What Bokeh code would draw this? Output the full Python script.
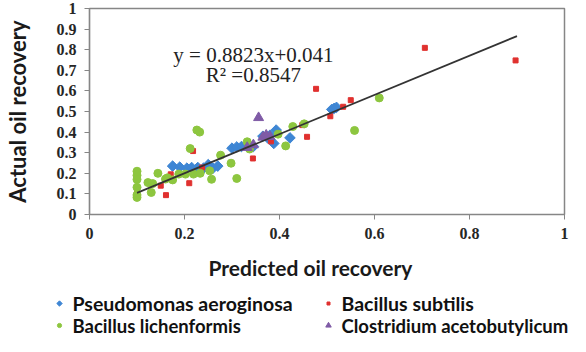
import numpy as np
from bokeh.plotting import figure
from bokeh.layouts import column
from bokeh.models import Range1d, FixedTicker, Label, Title
from bokeh.core.properties import value
from bokeh.embed import file_html
from bokeh.resources import INLINE

# ---- data ----
series_names = ["Pseudomonas aeroginosa", "Bacillus subtilis",
                "Bacillus lichenformis", "Clostridium acetobutylicum"]

blue_x = [0.175, 0.19, 0.205, 0.215, 0.228, 0.24, 0.25, 0.26, 0.27, 0.30, 0.31, 0.32,
          0.335, 0.345, 0.365, 0.375, 0.38, 0.393, 0.388, 0.422, 0.51, 0.515, 0.52]
blue_y = [0.235, 0.23, 0.225, 0.228, 0.228, 0.225, 0.242, 0.225, 0.235, 0.322, 0.328, 0.33,
          0.335, 0.33, 0.38, 0.372, 0.385, 0.41, 0.345, 0.372, 0.51, 0.515, 0.52]

red_x = [0.1, 0.15, 0.161, 0.171, 0.21, 0.218, 0.237, 0.344, 0.382, 0.448, 0.458,
         0.477, 0.507, 0.534, 0.55, 0.706, 0.897]
red_y = [0.107, 0.14, 0.094, 0.195, 0.152, 0.308, 0.228, 0.272, 0.355, 0.434, 0.377,
         0.61, 0.477, 0.523, 0.555, 0.809, 0.748]

green_x = [0.1, 0.1, 0.1, 0.1, 0.1, 0.1, 0.123, 0.13, 0.133, 0.144, 0.16, 0.164, 0.175,
           0.188, 0.202, 0.212, 0.219, 0.226, 0.232, 0.233, 0.253, 0.257, 0.276, 0.298,
           0.31, 0.332, 0.337, 0.397, 0.413, 0.428, 0.452, 0.558, 0.61]
green_y = [0.083, 0.095, 0.132, 0.17, 0.19, 0.21, 0.155, 0.107, 0.15, 0.2, 0.172, 0.178, 0.168,
           0.196, 0.196, 0.32, 0.196, 0.41, 0.4, 0.2, 0.212, 0.171, 0.288, 0.249,
           0.175, 0.353, 0.318, 0.39, 0.333, 0.427, 0.44, 0.408, 0.566]

purple_x = [0.332, 0.345, 0.356, 0.365, 0.372, 0.38]
purple_y = [0.325, 0.338, 0.47, 0.375, 0.385, 0.378]

trend_x = [0.1, 0.9]
trend_y = [0.105, 0.866]

equation_text = "y = 0.8823x+0.041"
r2_text = "R\u00b2 =0.8547"

x_ticks = [0, 0.2, 0.4, 0.6, 0.8, 1]
x_tick_labels = ["0", "0.2", "0.4", "0.6", "0.8", "1"]
y_ticks = [0, 0.1, 0.2, 0.3, 0.4, 0.5, 0.6, 0.7, 0.8, 0.9, 1]
y_tick_labels = ["0", "0.1", "0.2", "0.3", "0.4", "0.5", "0.6", "0.7", "0.8", "0.9", "1"]

x_title = "Predicted oil recovery"
y_title = "Actual oil recovery"

# ---- styles ----
C_BLUE = "#3E86D4"
C_RED = "#E0312F"
C_GREEN = "#8DC63F"
C_PURPLE = "#7F5BA6"
GRAY = "#868686"
TICK_FONT = "Liberation Serif"
TITLE_FONT = "Lato"
W = 570

p = figure(width=W, height=292, output_backend="svg", toolbar_location=None,
           x_range=Range1d(0, 1), y_range=Range1d(0, 1),
           min_border_left=86, min_border_right=6, min_border_top=8, min_border_bottom=78)
p.grid.visible = False
p.outline_line_color = GRAY
p.outline_line_width = 1.5
p.background_fill_color = "white"
p.border_fill_color = "white"

for ax in (p.xaxis[0], p.yaxis[0]):
    ax.axis_line_color = GRAY
    ax.axis_line_width = 1.2
    ax.major_tick_line_color = GRAY
    ax.major_tick_out = 5
    ax.major_tick_in = 0
    ax.minor_tick_line_color = None
    ax.major_label_text_font = TICK_FONT
    ax.major_label_text_font_size = "16px"
    ax.major_label_text_font_style = "bold"
    ax.major_label_text_color = "#262626"
    ax.major_label_standoff = 8

p.xaxis.ticker = FixedTicker(ticks=x_ticks)
p.xaxis.major_label_overrides = dict(zip(x_ticks, x_tick_labels))
p.yaxis.ticker = FixedTicker(ticks=y_ticks)
p.yaxis.major_label_overrides = dict(zip(y_ticks, y_tick_labels))

p.yaxis.axis_label = y_title
p.yaxis.axis_label_text_font = TITLE_FONT
p.yaxis.axis_label_text_font_size = "22px"
p.yaxis.axis_label_text_font_style = "bold"
p.yaxis.axis_label_text_color = "#1a1a1a"
p.yaxis.axis_label_standoff = 23

r_blue = p.scatter(blue_x, blue_y, marker="square", angle=np.pi / 4, size=7.5,
                   fill_color=C_BLUE, line_color=C_BLUE)
r_red = p.scatter(red_x, red_y, marker="square", size=5, fill_color=C_RED, line_color=C_RED)
r_green = p.scatter(green_x, green_y, marker="circle", size=8, fill_color=C_GREEN, line_color=C_GREEN)
r_purple = p.scatter(purple_x, purple_y, marker="triangle", size=10,
                     fill_color=C_PURPLE, line_color=C_PURPLE)
p.line(trend_x, trend_y, line_color="#333333", line_width=1.8)

p.add_layout(Label(x=0.345, y=0.775, text=equation_text, text_align="center",
                   text_baseline="middle", text_font=TICK_FONT, text_font_size="21px",
                   text_color="#222222"))
p.add_layout(Label(x=0.345, y=0.678, text=r2_text, text_align="center",
                   text_baseline="middle", text_font=TICK_FONT, text_font_size="21px",
                   text_color="#222222"))

p.add_layout(Title(text=x_title, align="left", offset=119, standoff=22,
                   text_font=TITLE_FONT, text_font_size="21px", text_font_style="bold",
                   text_color="#1a1a1a"), "below")

# ---- legend strip (separate figure below the chart) ----
LH = 44
leg = figure(width=W, height=LH, output_backend="svg", toolbar_location=None,
             x_range=Range1d(0, W), y_range=Range1d(LH, 0),
             x_axis_type=None, y_axis_type=None, min_border=0)
leg.grid.visible = False
leg.outline_line_color = None
leg.border_fill_color = "white"
for fig in (p, leg):
    if "frame_align" in fig.properties():
        fig.frame_align = False

col_x = [59, 328]          # key centres, px
row_y = [11, 33]           # row centres, px from top
text_dx = 13
row_font = ["19.5px", "18.5px"]

leg.scatter([col_x[0]], [row_y[0]], marker="square", angle=np.pi / 4, size=3.8,
            fill_color=C_BLUE, line_color=C_BLUE)
leg.scatter([col_x[1]], [row_y[0]], marker="square", size=3, fill_color=C_RED, line_color=C_RED)
leg.scatter([col_x[0]], [row_y[1]], marker="circle", size=4.2, fill_color=C_GREEN, line_color=C_GREEN)
leg.scatter([col_x[1]], [row_y[1]], marker="triangle", size=5.5, fill_color=C_PURPLE, line_color=C_PURPLE)
for r in range(2):
    leg.text(x=[cx + text_dx for cx in col_x], y=[row_y[r], row_y[r]],
             text=series_names[2 * r:2 * r + 2],
             text_font=value(TITLE_FONT), text_font_size=row_font[r], text_font_style="bold",
             text_color="#111111", text_baseline="middle", text_align="left")

layout = column(p, leg, spacing=0)
open("out.html", "w").write(file_html(layout, INLINE))
